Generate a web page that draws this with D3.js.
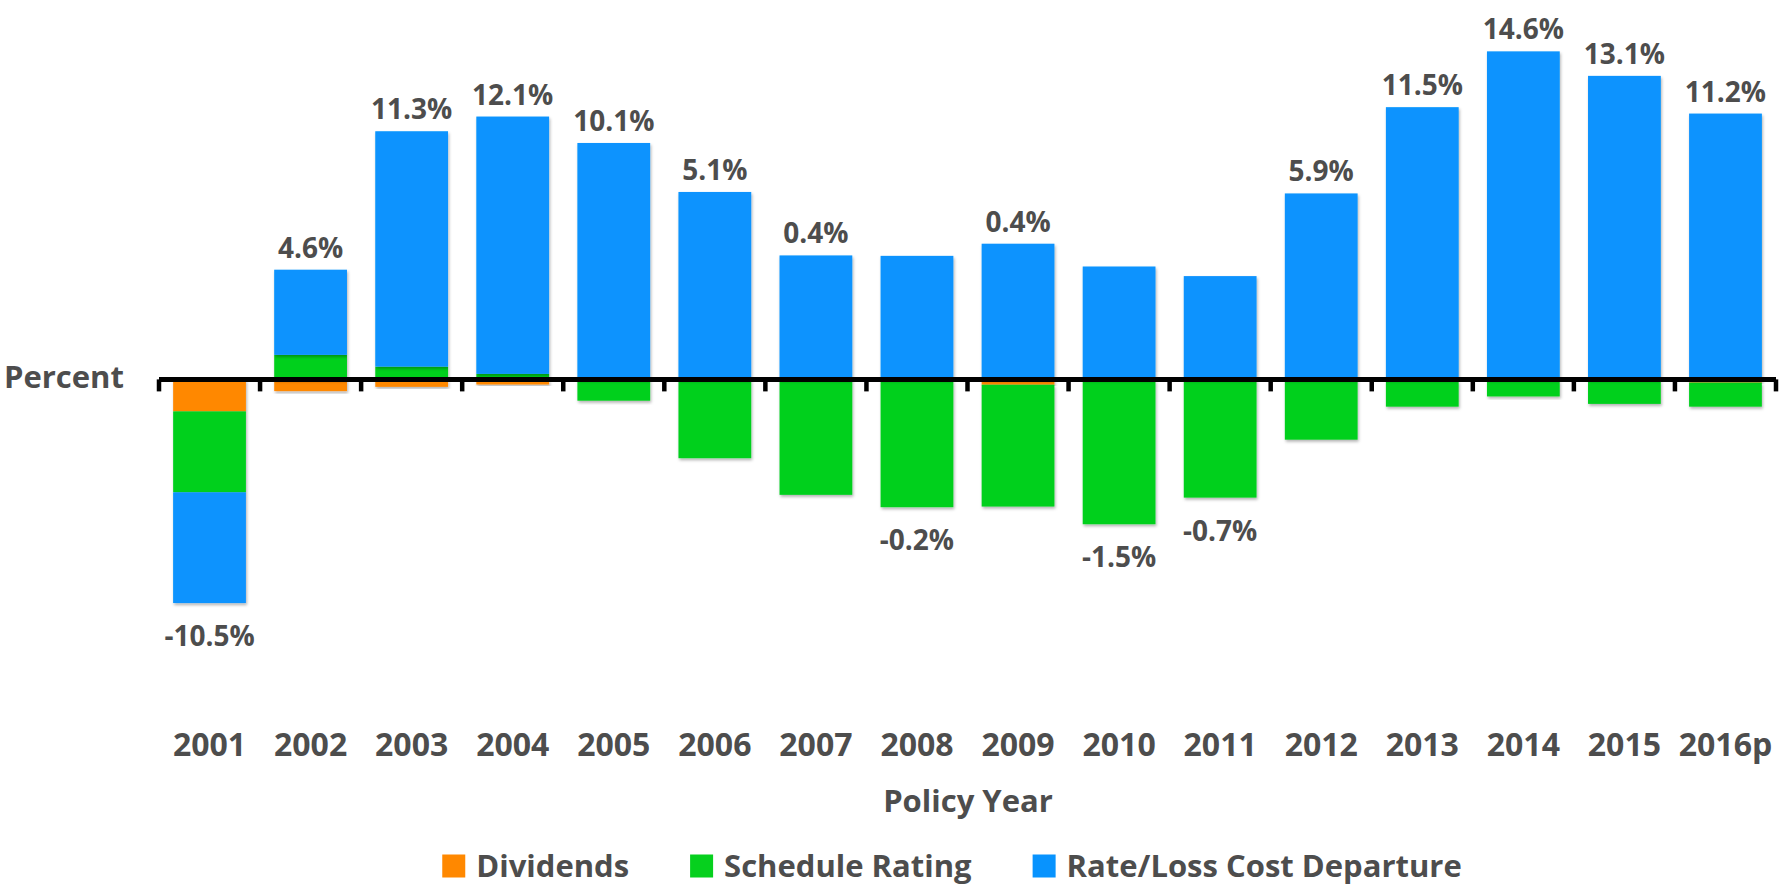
<!DOCTYPE html>
<html>
<head>
<meta charset="utf-8">
<script src="https://cdn.jsdelivr.net/npm/d3@7"></script>
<style>
  html, body { margin: 0; padding: 0; background: #fff; }
  svg text { font-family: "Open Sans", sans-serif; font-weight: 700; fill: #4d4d4d; }
</style>
</head>
<body>
<div id="chart"></div>
<script>
// values (percent)
var years = ['2001','2002','2003','2004','2005','2006','2007','2008','2009','2010','2011','2012','2013','2014','2015','2016p'];
var dividends = [-1.5, -0.55, -0.35, -0.24, 0, -0.03, 0, -0.05, -0.25, -0.05, 0, 0, -0.08, -0.05, -0.05, -0.15];
var scheduleRating = [-3.8, 1.15, 0.6, 0.26, -1.0, -3.67, -5.42, -5.95, -5.72, -6.75, -5.55, -2.83, -1.2, -0.75, -1.1, -1.13];
var rateDeparture = [-5.2, 4.0, 11.05, 12.08, 11.1, 8.8, 5.82, 5.8, 6.37, 5.3, 4.85, 8.73, 12.78, 15.4, 14.25, 12.48];
var netLabels = ['-10.5%','4.6%','11.3%','12.1%','10.1%','5.1%','0.4%','-0.2%','0.4%','-1.5%','-0.7%','5.9%','11.5%','14.6%','13.1%','11.2%'];
var seriesNames = ['Dividends', 'Schedule Rating', 'Rate/Loss Cost Departure'];
var seriesColors = ['#ff8800', '#06d01e', '#0893fe'];

var width = 1781, height = 890;
var svg = d3.select('#chart').append('svg')
    .attr('width', width)
    .attr('height', height);

var defs = svg.append('defs');
var shadow = defs.append('filter').attr('id', 'shadow')
    .attr('x', '-10%').attr('y', '-10%').attr('width', '130%').attr('height', '130%');
shadow.append('feDropShadow')
    .attr('dx', 1).attr('dy', 2).attr('stdDeviation', 1.5)
    .attr('flood-color', '#000').attr('flood-opacity', 0.3);

// build rows for stacking
var rows = years.map(function (y, i) {
    return {
        year: y,
        'Dividends': dividends[i],
        'Schedule Rating': scheduleRating[i],
        'Rate/Loss Cost Departure': rateDeparture[i]
    };
});

var stack = d3.stack().keys(seriesNames).offset(d3.stackOffsetDiverging);
var stacked = stack(rows);

var xScale = d3.scaleBand().domain(years).range([159, 1776])
    .paddingInner(0.28).paddingOuter(0.14);
var yScale = d3.scaleLinear().domain([-12, 16]).range([379.4 + 12 * 21.3, 379.4 - 16 * 21.3]);
var color = d3.scaleOrdinal().domain(seriesNames).range(seriesColors);

// bars
svg.append('g').attr('class', 'bars')
    .selectAll('g').data(stacked)
    .enter().append('g')
    .attr('fill', function (d) { return color(d.key); })
    .selectAll('rect').data(function (d) { return d; })
    .enter().append('rect')
    .attr('x', function (d) { return xScale(d.data.year); })
    .attr('width', xScale.bandwidth())
    .attr('y', function (d) { return yScale(Math.max(d[0], d[1])); })
    .attr('height', function (d) { return Math.abs(yScale(d[0]) - yScale(d[1])); })
    .attr('filter', 'url(#shadow)');

// zero axis line with ticks at category boundaries
var step = xScale.step();
var axisG = svg.append('g').attr('class', 'axis-zero');
var y0 = yScale(0);
axisG.append('line')
    .attr('x1', xScale(years[0]) - step * 0.14)
    .attr('x2', xScale(years[years.length - 1]) + xScale.bandwidth() + step * 0.14)
    .attr('y1', y0).attr('y2', y0)
    .attr('stroke', '#000').attr('stroke-width', 5);
var boundaries = years.map(function (y) { return xScale(y) - step * 0.14; });
boundaries.push(xScale(years[years.length - 1]) + xScale.bandwidth() + step * 0.14);
axisG.selectAll('line.tick').data(boundaries)
    .enter().append('line')
    .attr('class', 'tick')
    .attr('x1', function (d) { return d; })
    .attr('x2', function (d) { return d; })
    .attr('y1', y0).attr('y2', y0 + 12)
    .attr('stroke', '#000').attr('stroke-width', 4.5);

// net value labels
var posTop = years.map(function (y, i) {
    return Math.max(0, dividends[i]) + Math.max(0, scheduleRating[i]) + Math.max(0, rateDeparture[i]);
});
var negBottom = years.map(function (y, i) {
    return Math.min(0, dividends[i]) + Math.min(0, scheduleRating[i]) + Math.min(0, rateDeparture[i]);
});
svg.append('g').attr('class', 'labels')
    .selectAll('text').data(years)
    .enter().append('text')
    .attr('x', function (d) { return xScale(d) + xScale.bandwidth() / 2; })
    .attr('y', function (d, i) {
        if (netLabels[i].charAt(0) == '-') {
            return yScale(negBottom[i]) + 43;
        }
        return yScale(posTop[i]) - 12;
    })
    .attr('text-anchor', 'middle')
    .style('font-size', '28px')
    .text(function (d, i) { return netLabels[i]; });

// year axis
var xAxis = svg.append('g')
    .attr('class', 'axis-x')
    .attr('transform', 'translate(0,' + 733 + ')')
    .call(d3.axisBottom(xScale).tickSize(0).tickPadding(0));
xAxis.select('.domain').remove();
xAxis.selectAll('text')
    .attr('dy', '0.71em')
    .style('font-size', '32px')
    .style('font-family', '"Open Sans", sans-serif')
    .attr('fill', '#4d4d4d');

// axis titles
svg.append('text')
    .attr('x', 968).attr('y', 812)
    .attr('text-anchor', 'middle')
    .style('font-size', '31px')
    .text('Policy Year');

svg.append('text')
    .attr('x', 4).attr('y', 388)
    .style('font-size', '31px')
    .text('Percent');

// legend
var legend = svg.append('g').attr('class', 'legend');
var lx = 0;
seriesNames.forEach(function (name, i) {
    var item = legend.append('g').attr('transform', 'translate(' + lx + ',0)');
    item.append('rect')
        .attr('x', 0).attr('y', -11.5)
        .attr('width', 23).attr('height', 23)
        .attr('fill', seriesColors[i]);
    var t = item.append('text')
        .attr('x', 34).attr('y', 11)
        .style('font-size', '31px')
        .text(name);
    lx += 34 + t.node().getComputedTextLength() + 61;
});
var legendWidth = lx - 61;
legend.attr('transform', 'translate(' + (952 - legendWidth / 2) + ',' + 866 + ')');
</script>
</body>
</html>
